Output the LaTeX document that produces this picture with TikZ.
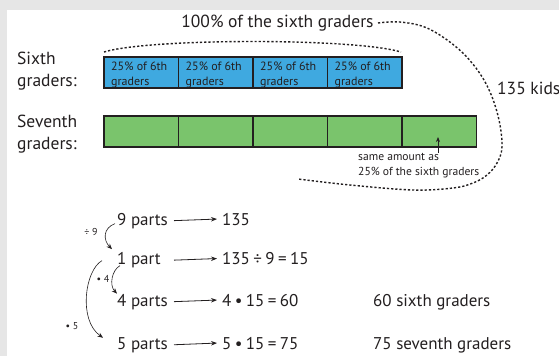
\documentclass[tikz,border=0pt]{standalone}
\usepackage{fontspec}
\setmainfont{PT Sans}
\usetikzlibrary{arrows.meta,calc}
\definecolor{bg}{HTML}{E6E6E6}
\definecolor{ink}{HTML}{231F20}
\definecolor{cblue}{HTML}{3FA9E0}
\definecolor{cgreen}{HTML}{7AC46C}
\tikzset{
  big/.style={font=\fontsize{17.5}{21.5}\selectfont},
  bot/.style={font=\fontsize{17}{21}\selectfont},
  small/.style={font=\fontsize{12}{14.3}\selectfont},
  notef/.style={font=\fontsize{11.6}{15}\selectfont},
  tiny/.style={font=\fontsize{10}{12}\selectfont},
  txt/.style={inner sep=0pt, text=ink},
  bluecell/.style={draw=ink, line width=1.6pt, fill=cblue, minimum width=74.5pt, minimum height=31pt, inner sep=0pt},
  greencell/.style={draw=ink, line width=1.6pt, fill=cgreen, minimum width=74.5pt, minimum height=31pt, inner sep=0pt},
  dotline/.style={draw=ink, line width=1.4pt, dash pattern=on 2.2pt off 2pt},
  thinarrow/.style={draw=ink, line width=0.8pt, -{Stealth[length=6pt,width=4.5pt]}},
  curvarrow/.style={draw=ink, line width=0.6pt, -{Stealth[length=5.5pt,width=4.5pt]}},
}
\newcommand\gp{\kern3.4pt}
\begin{document}
\begin{tikzpicture}[x=1pt,y=-1pt]
\fill[bg] (0,0) rectangle (559,356);
\fill[white] (7,10) rectangle (559,356);
\useasboundingbox (0,0) rectangle (559,356);

% top title
\node[txt,big] (title) at (277.5,23) {100\% of the sixth graders};

% row labels
\node[txt,big,align=left,anchor=west] (lab6) at (17,71) {Sixth\\graders:};
\node[txt,big,align=left,anchor=west] (lab7) at (17,134) {Seventh\\graders:};

% sixth graders bar
\foreach \i in {0,...,3}{
  \node[bluecell] (s\i) at ({104+74.5*\i+37.25},72.5) {};
  \node[txt,small,align=left,anchor=base west,text=ink] (st\i) at ({111+74.5*\i},85.2) {25\% of 6th\\graders};
}
% seventh graders bar
\foreach \i in {0,...,4}{
  \node[greencell] (g\i) at ({104+74.5*\i+37.25},131.5) {};
}

% dotted arc above sixth graders
\coordinate (arcL) at (104,52);
\coordinate (arcR) at (401,52);
\draw[dotline] (arcL) .. controls (150,38) and (355,38) .. (arcR);

% big dotted curve
\draw[dotline] plot[smooth, tension=0.6] coordinates {(378,23) (400,22) (427,28) (455,46) (476,68) (490,92) (499,120) (502,147) (497,163) (487,175) (473,183) (453,188) (413,190) (350,185) (298,179)};

\node[txt,big,anchor=west] (kids) at (497,88) {135 kids};

% note
\node[txt,notef,align=left,anchor=base west] (note) at (358,175.5) {same amount as\\25\% of the sixth graders};
\coordinate (nt) at (438,152.5);
\coordinate (nh) at (438,137);
\draw[draw=ink, line width=0.8pt, -{Stealth[length=5pt,width=4pt]}] (nt) -- (nh);

% bottom rows
\coordinate (aL) at (174,0);
\coordinate (aR) at (217,0);
\node[txt,bot,anchor=base west] (p9) at (117,225) {9 parts};
\node[txt,bot,anchor=base west] (p1) at (117,264.5) {1 part};
\node[txt,bot,anchor=base west] (p4) at (117,306) {4 parts};
\node[txt,bot,anchor=base west] (p5) at (117,349) {5 parts};

\node[txt,bot,anchor=base west] (v9) at (222,225) {135};
\node[txt,bot,anchor=base west] (v1) at (222,264.5) {135\gp÷\gp9\gp=\gp15};
\node[txt,bot,anchor=base west] (v4) at (222,306) {4\gp•\gp15\gp=\gp60};
\node[txt,bot,anchor=base west] (v5) at (222,349) {5\gp•\gp15\gp=\gp75};

\node[txt,bot,anchor=base west] (r4) at (373,306) {60 sixth graders};
\node[txt,bot,anchor=base west] (r5) at (373,349) {75 seventh graders};

\foreach \r in {9,1,4,5}{
  \draw[thinarrow] (p\r.west -| aL) -- (v\r.west -| aR);
}

% curved arrows
\draw[curvarrow] ([shift={(-2,3)}]p9.west) .. controls (103,228) and (103,240) .. ([shift={(-5,-11)}]p1.west);
\node[txt,tiny] (d9) at (91,232) {÷ 9};
\draw[curvarrow] ([shift={(3,5.5)}]p1.west) .. controls (112,270) and (109,285) .. ([shift={(0,-8)}]p4.west);
\node[txt,tiny] (m4) at (103,279) {• 4};
\draw[curvarrow] ([shift={(-15,0.5)}]p1.west) .. controls (85,270) and (78,320) .. ([shift={(-14,-7)}]p5.west);
\node[txt,tiny] (m5) at (72,326) {• 5};
\end{tikzpicture}
\end{document}
